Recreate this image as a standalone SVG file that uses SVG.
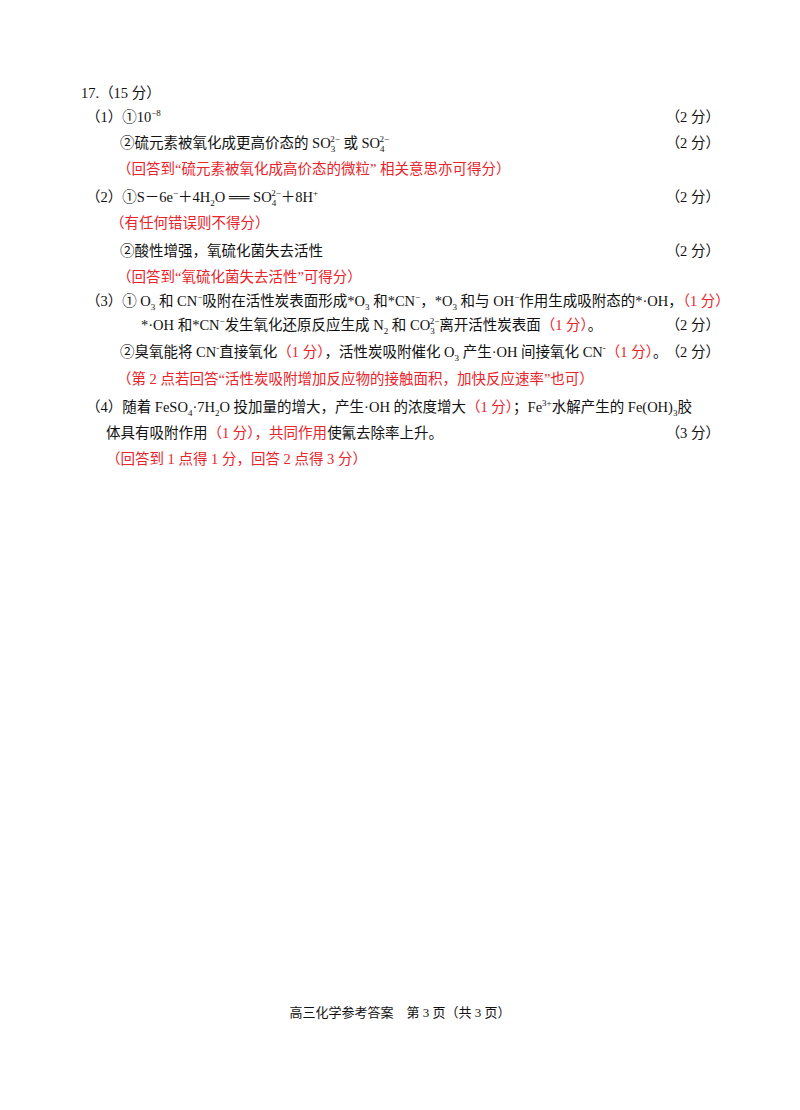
<svg xmlns="http://www.w3.org/2000/svg" width="800" height="1110" viewBox="0 0 800 1110">
<style>
text{font-family:"Liberation Serif","Noto Sans CJK SC",serif;font-size:14.5px;fill:#111}
.r{fill:#e8242b}
.s{text-anchor:end}
.sm{font-size:9px}
</style>
<rect width="800" height="1110" fill="#fff"/>
<g transform="translate(0,2)">
<text x="81" y="96">17.（15 分）</text>
<text x="86" y="120">（1）①10<tspan class="sm" dy="-6">−8</tspan></text>
<text class="s" x="720" y="120">（2 分）</text>
<text x="120" y="146">②硫元素被氧化成更高价态的 SO<tspan class="sm" dy="4">3</tspan><tspan class="sm" dx="-5" dy="-10">2−</tspan><tspan dy="6"> 或 SO</tspan><tspan class="sm" dy="4">4</tspan><tspan class="sm" dx="-5" dy="-10">2−</tspan></text>
<text class="s" x="720" y="146">（2 分）</text>
<text class="r" x="117" y="172">（回答到“硫元素被氧化成高价态的微粒” 相关意思亦可得分）</text>
<text x="86" y="200">（2）①S－6e<tspan class="sm" dy="-6">−</tspan><tspan dy="6">＋4H</tspan><tspan class="sm" dy="4">2</tspan><tspan dy="-4">O ══ SO</tspan><tspan class="sm" dy="4">4</tspan><tspan class="sm" dx="-5" dy="-10">2−</tspan><tspan dy="6">＋8H</tspan><tspan class="sm" dy="-6">+</tspan></text>
<text class="s" x="720" y="200">（2 分）</text>
<text class="r" x="110" y="226">（有任何错误则不得分）</text>
<text x="120" y="254">②酸性增强，氧硫化菌失去活性</text>
<text class="s" x="720" y="254">（2 分）</text>
<text class="r" x="117" y="280">（回答到“氧硫化菌失去活性”可得分）</text>
<text x="86" y="304">（3）① O<tspan class="sm" dy="4">3</tspan><tspan dy="-4"> 和 CN</tspan><tspan class="sm" dy="-6">−</tspan><tspan dy="6">吸附在活性炭表面形成*O</tspan><tspan class="sm" dy="4">3</tspan><tspan dy="-4"> 和*CN</tspan><tspan class="sm" dy="-6">−</tspan><tspan dy="6">，*O</tspan><tspan class="sm" dy="4">3</tspan><tspan dy="-4"> 和与 OH</tspan><tspan class="sm" dy="-6">−</tspan><tspan dy="6">作用生成吸附态的*·OH，</tspan><tspan class="r">（1 分）</tspan></text>
<text x="141" y="328">*·OH 和*CN<tspan class="sm" dy="-6">−</tspan><tspan dy="6">发生氧化还原反应生成 N</tspan><tspan class="sm" dy="4">2</tspan><tspan dy="-4"> 和 CO</tspan><tspan class="sm" dy="4">3</tspan><tspan class="sm" dx="-5" dy="-10">2−</tspan><tspan dy="6">离开活性炭表面</tspan><tspan class="r">（1 分）</tspan>。</text>
<text class="s" x="720" y="328">（2 分）</text>
<text x="120" y="355">②臭氧能将 CN<tspan class="sm" dy="-6">-</tspan><tspan dy="6">直接氧化</tspan><tspan class="r">（1 分）</tspan>，活性炭吸附催化 O<tspan class="sm" dy="4">3</tspan><tspan dy="-4"> 产生·OH  间接氧化 CN</tspan><tspan class="sm" dy="-6">-</tspan><tspan class="r" dy="6">（1 分）</tspan>。</text>
<text class="s" x="720" y="355">（2 分）</text>
<text class="r" x="117" y="382">（第 2 点若回答“活性炭吸附增加反应物的接触面积，加快反应速率”也可）</text>
<text x="86" y="410">（4）随着 FeSO<tspan class="sm" dy="4">4</tspan><tspan dy="-4">·7H</tspan><tspan class="sm" dy="4">2</tspan><tspan dy="-4">O 投加量的增大，产生·OH 的浓度增大</tspan><tspan class="r">（1 分）</tspan>；Fe<tspan class="sm" dy="-6">3+</tspan><tspan dy="6">水解产生的 Fe(OH)</tspan><tspan class="sm" dy="4">3</tspan><tspan dy="-4">胶</tspan></text>
<text x="106" y="436">体具有吸附作用<tspan class="r">（1 分），共同作用</tspan>使氰去除率上升。</text>
<text class="s" x="720" y="436">（3 分）</text>
<text class="r" x="106" y="462">（回答到 1 点得 1 分，回答 2 点得 3 分）</text>
<text x="400" y="1015" text-anchor="middle" style="font-size:13px">高三化学参考答案　第 3 页（共 3 页）</text>
</g>
</svg>
